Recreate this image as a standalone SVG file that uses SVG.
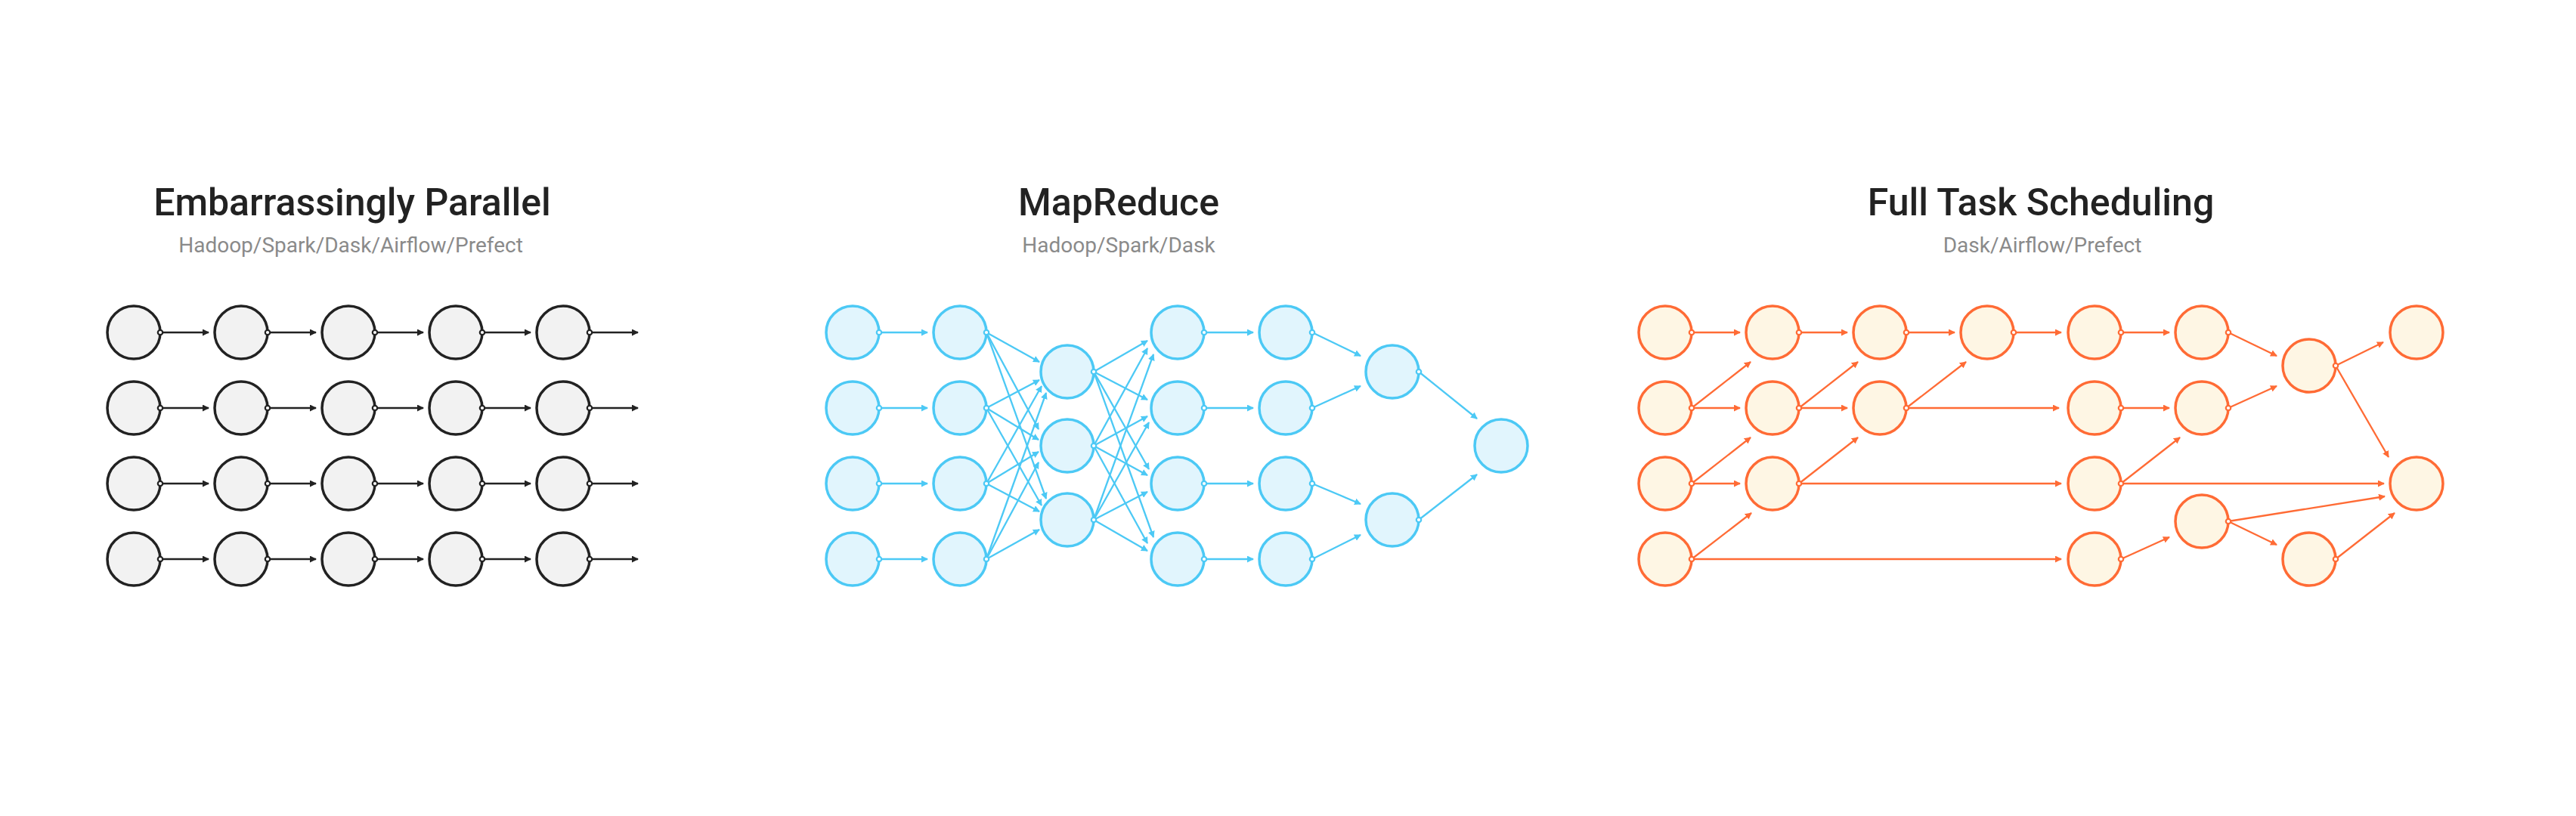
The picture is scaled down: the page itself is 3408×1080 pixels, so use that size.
<svg xmlns="http://www.w3.org/2000/svg" width="3408" height="1080" viewBox="0 0 3408 1080">
<style>
.t{font-family:Roboto,"Liberation Sans",sans-serif;font-size:50px;font-weight:500;fill:#222;text-anchor:middle}
.s{font-family:Roboto,"Liberation Sans",sans-serif;font-size:28px;font-weight:400;fill:#8a8a8a;text-anchor:middle}
.nk{fill:#f2f2f2;stroke:#222;stroke-width:3.5}
.nb{fill:#e1f5fd;stroke:#4cc9f5;stroke-width:3.5}
.no{fill:#fef6e4;stroke:#ff6b35;stroke-width:3.5}
.pk{fill:#fff;stroke:#222;stroke-width:2.2}
.pb{fill:#fff;stroke:#4cc9f5;stroke-width:2.2}
.po{fill:#fff;stroke:#ff6b35;stroke-width:2.2}
.ek{stroke:#222;stroke-width:2.3;fill:none;marker-end:url(#ak)}
.eb{stroke:#4cc9f5;stroke-width:2.3;fill:none;marker-end:url(#ab)}
.eo{stroke:#ff6b35;stroke-width:2.3;fill:none;marker-end:url(#ao)}
</style>
<defs>
<marker id="ak" viewBox="0 0 9 9" refX="8" refY="4.5" markerWidth="9" markerHeight="9" markerUnits="userSpaceOnUse" orient="auto"><path d="M0,0 L9,4.5 L0,9 z" fill="#222"/></marker>
<marker id="ab" viewBox="0 0 9 9" refX="8" refY="4.5" markerWidth="9" markerHeight="9" markerUnits="userSpaceOnUse" orient="auto"><path d="M0,0 L9,4.5 L0,9 z" fill="#4cc9f5"/></marker>
<marker id="ao" viewBox="0 0 9 9" refX="8" refY="4.5" markerWidth="9" markerHeight="9" markerUnits="userSpaceOnUse" orient="auto"><path d="M0,0 L9,4.5 L0,9 z" fill="#ff6b35"/></marker>
</defs>
<rect width="3408" height="1080" fill="#fff"/>
<g id="titles">
<text class="t" x="466" y="285">Embarrassingly Parallel</text>
<text class="s" x="464" y="334">Hadoop/Spark/Dask/Airflow/Prefect</text>
<text class="t" x="1480" y="285">MapReduce</text>
<text class="s" x="1480" y="334">Hadoop/Spark/Dask</text>
<text class="t" x="2700" y="285">Full Task Scheduling</text>
<text class="s" x="2702" y="334">Dask/Airflow/Prefect</text>
</g>
<g id="connectors">
<g id="edges-parallel">
<line class="ek" x1="212" y1="440" x2="276" y2="440"/><line class="ek" x1="354" y1="440" x2="418" y2="440"/><line class="ek" x1="496" y1="440" x2="560" y2="440"/><line class="ek" x1="638" y1="440" x2="702" y2="440"/><line class="ek" x1="780" y1="440" x2="844" y2="440"/>
<line class="ek" x1="212" y1="540" x2="276" y2="540"/><line class="ek" x1="354" y1="540" x2="418" y2="540"/><line class="ek" x1="496" y1="540" x2="560" y2="540"/><line class="ek" x1="638" y1="540" x2="702" y2="540"/><line class="ek" x1="780" y1="540" x2="844" y2="540"/>
<line class="ek" x1="212" y1="640" x2="276" y2="640"/><line class="ek" x1="354" y1="640" x2="418" y2="640"/><line class="ek" x1="496" y1="640" x2="560" y2="640"/><line class="ek" x1="638" y1="640" x2="702" y2="640"/><line class="ek" x1="780" y1="640" x2="844" y2="640"/>
<line class="ek" x1="212" y1="740" x2="276" y2="740"/><line class="ek" x1="354" y1="740" x2="418" y2="740"/><line class="ek" x1="496" y1="740" x2="560" y2="740"/><line class="ek" x1="638" y1="740" x2="702" y2="740"/><line class="ek" x1="780" y1="740" x2="844" y2="740"/>
</g>
<g id="edges-mapreduce">
<line class="eb" x1="1163" y1="440" x2="1227" y2="440"/><line class="eb" x1="1163" y1="540" x2="1227" y2="540"/><line class="eb" x1="1163" y1="640" x2="1227" y2="640"/><line class="eb" x1="1163" y1="740" x2="1227" y2="740"/>
<line class="eb" x1="1305" y1="440" x2="1375" y2="479"/><line class="eb" x1="1305" y1="540" x2="1375" y2="503"/><line class="eb" x1="1305" y1="640" x2="1378" y2="511"/><line class="eb" x1="1305" y1="740" x2="1384" y2="520"/>
<line class="eb" x1="1305" y1="440" x2="1374" y2="568"/><line class="eb" x1="1305" y1="540" x2="1374" y2="582"/><line class="eb" x1="1305" y1="640" x2="1374" y2="598"/><line class="eb" x1="1305" y1="740" x2="1374" y2="612"/>
<line class="eb" x1="1305" y1="440" x2="1384" y2="660"/><line class="eb" x1="1305" y1="540" x2="1378" y2="669"/><line class="eb" x1="1305" y1="640" x2="1375" y2="677"/><line class="eb" x1="1305" y1="740" x2="1375" y2="701"/>
<line class="eb" x1="1447" y1="492" x2="1518" y2="451"/><line class="eb" x1="1447" y1="590" x2="1518" y2="461"/><line class="eb" x1="1447" y1="688" x2="1526" y2="469"/>
<line class="eb" x1="1447" y1="492" x2="1518" y2="529"/><line class="eb" x1="1447" y1="590" x2="1518" y2="551"/><line class="eb" x1="1447" y1="688" x2="1520" y2="559"/>
<line class="eb" x1="1447" y1="492" x2="1520" y2="621"/><line class="eb" x1="1447" y1="590" x2="1518" y2="629"/><line class="eb" x1="1447" y1="688" x2="1518" y2="651"/>
<line class="eb" x1="1447" y1="492" x2="1526" y2="711"/><line class="eb" x1="1447" y1="590" x2="1518" y2="719"/><line class="eb" x1="1447" y1="688" x2="1518" y2="729"/>
<line class="eb" x1="1593" y1="440" x2="1658" y2="440"/><line class="eb" x1="1593" y1="540" x2="1658" y2="540"/><line class="eb" x1="1593" y1="640" x2="1658" y2="640"/><line class="eb" x1="1593" y1="740" x2="1658" y2="740"/>
<line class="eb" x1="1736" y1="440" x2="1800" y2="471"/><line class="eb" x1="1736" y1="540" x2="1800" y2="511"/><line class="eb" x1="1736" y1="640" x2="1800" y2="667"/><line class="eb" x1="1736" y1="740" x2="1800" y2="708"/>
<line class="eb" x1="1877" y1="492" x2="1954" y2="554"/><line class="eb" x1="1877" y1="688" x2="1954" y2="628"/>
</g>
<g id="edges-scheduling">
<line class="eo" x1="2238" y1="440" x2="2302" y2="440"/>
<line class="eo" x1="2238" y1="540" x2="2302" y2="540"/>
<line class="eo" x1="2238" y1="540" x2="2316" y2="479"/>
<line class="eo" x1="2238" y1="640" x2="2302" y2="640"/>
<line class="eo" x1="2238" y1="640" x2="2316" y2="579"/>
<line class="eo" x1="2238" y1="740" x2="2317" y2="679"/>
<line class="eo" x1="2238" y1="740" x2="2727" y2="740"/>
<line class="eo" x1="2380" y1="440" x2="2444" y2="440"/>
<line class="eo" x1="2380" y1="540" x2="2444" y2="540"/>
<line class="eo" x1="2380" y1="540" x2="2458" y2="479"/>
<line class="eo" x1="2380" y1="640" x2="2458" y2="579"/>
<line class="eo" x1="2380" y1="640" x2="2727" y2="640"/>
<line class="eo" x1="2522" y1="440" x2="2586" y2="440"/>
<line class="eo" x1="2522" y1="540" x2="2601" y2="479"/>
<line class="eo" x1="2522" y1="540" x2="2724" y2="540"/>
<line class="eo" x1="2664" y1="440" x2="2727" y2="440"/>
<line class="eo" x1="2806" y1="440" x2="2870" y2="440"/>
<line class="eo" x1="2806" y1="540" x2="2870" y2="540"/>
<line class="eo" x1="2806" y1="640" x2="2884" y2="579"/>
<line class="eo" x1="2806" y1="640" x2="3154" y2="640"/>
<line class="eo" x1="2806" y1="740" x2="2870" y2="711"/>
<line class="eo" x1="2948" y1="440" x2="3012" y2="471"/>
<line class="eo" x1="2948" y1="540" x2="3012" y2="511"/>
<line class="eo" x1="3090" y1="484" x2="3153" y2="453"/>
<line class="eo" x1="3090" y1="484" x2="3160" y2="605"/>
<line class="eo" x1="2948" y1="690" x2="3155" y2="657"/>
<line class="eo" x1="2948" y1="690" x2="3012" y2="721"/>
<line class="eo" x1="3090" y1="740" x2="3168" y2="679"/>
</g>
</g>
<g id="nodes-parallel">
<g id="k-1-1"><circle class="nk" cx="177" cy="440" r="35"/><circle class="pk" cx="212" cy="440" r="3.2"/></g>
<g id="k-1-2"><circle class="nk" cx="319" cy="440" r="35"/><circle class="pk" cx="354" cy="440" r="3.2"/></g>
<g id="k-1-3"><circle class="nk" cx="461" cy="440" r="35"/><circle class="pk" cx="496" cy="440" r="3.2"/></g>
<g id="k-1-4"><circle class="nk" cx="603" cy="440" r="35"/><circle class="pk" cx="638" cy="440" r="3.2"/></g>
<g id="k-1-5"><circle class="nk" cx="745" cy="440" r="35"/><circle class="pk" cx="780" cy="440" r="3.2"/></g>
<g id="k-2-1"><circle class="nk" cx="177" cy="540" r="35"/><circle class="pk" cx="212" cy="540" r="3.2"/></g>
<g id="k-2-2"><circle class="nk" cx="319" cy="540" r="35"/><circle class="pk" cx="354" cy="540" r="3.2"/></g>
<g id="k-2-3"><circle class="nk" cx="461" cy="540" r="35"/><circle class="pk" cx="496" cy="540" r="3.2"/></g>
<g id="k-2-4"><circle class="nk" cx="603" cy="540" r="35"/><circle class="pk" cx="638" cy="540" r="3.2"/></g>
<g id="k-2-5"><circle class="nk" cx="745" cy="540" r="35"/><circle class="pk" cx="780" cy="540" r="3.2"/></g>
<g id="k-3-1"><circle class="nk" cx="177" cy="640" r="35"/><circle class="pk" cx="212" cy="640" r="3.2"/></g>
<g id="k-3-2"><circle class="nk" cx="319" cy="640" r="35"/><circle class="pk" cx="354" cy="640" r="3.2"/></g>
<g id="k-3-3"><circle class="nk" cx="461" cy="640" r="35"/><circle class="pk" cx="496" cy="640" r="3.2"/></g>
<g id="k-3-4"><circle class="nk" cx="603" cy="640" r="35"/><circle class="pk" cx="638" cy="640" r="3.2"/></g>
<g id="k-3-5"><circle class="nk" cx="745" cy="640" r="35"/><circle class="pk" cx="780" cy="640" r="3.2"/></g>
<g id="k-4-1"><circle class="nk" cx="177" cy="740" r="35"/><circle class="pk" cx="212" cy="740" r="3.2"/></g>
<g id="k-4-2"><circle class="nk" cx="319" cy="740" r="35"/><circle class="pk" cx="354" cy="740" r="3.2"/></g>
<g id="k-4-3"><circle class="nk" cx="461" cy="740" r="35"/><circle class="pk" cx="496" cy="740" r="3.2"/></g>
<g id="k-4-4"><circle class="nk" cx="603" cy="740" r="35"/><circle class="pk" cx="638" cy="740" r="3.2"/></g>
<g id="k-4-5"><circle class="nk" cx="745" cy="740" r="35"/><circle class="pk" cx="780" cy="740" r="3.2"/></g>
</g>
<g id="nodes-mapreduce">
<g id="b-1-1"><circle class="nb" cx="1128" cy="440" r="35"/><circle class="pb" cx="1163" cy="440" r="3.2"/></g>
<g id="b-1-2"><circle class="nb" cx="1128" cy="540" r="35"/><circle class="pb" cx="1163" cy="540" r="3.2"/></g>
<g id="b-1-3"><circle class="nb" cx="1128" cy="640" r="35"/><circle class="pb" cx="1163" cy="640" r="3.2"/></g>
<g id="b-1-4"><circle class="nb" cx="1128" cy="740" r="35"/><circle class="pb" cx="1163" cy="740" r="3.2"/></g>
<g id="b-2-1"><circle class="nb" cx="1270" cy="440" r="35"/><circle class="pb" cx="1305" cy="440" r="3.2"/></g>
<g id="b-2-2"><circle class="nb" cx="1270" cy="540" r="35"/><circle class="pb" cx="1305" cy="540" r="3.2"/></g>
<g id="b-2-3"><circle class="nb" cx="1270" cy="640" r="35"/><circle class="pb" cx="1305" cy="640" r="3.2"/></g>
<g id="b-2-4"><circle class="nb" cx="1270" cy="740" r="35"/><circle class="pb" cx="1305" cy="740" r="3.2"/></g>
<g id="b-3-1"><circle class="nb" cx="1412" cy="492" r="35"/><circle class="pb" cx="1447" cy="492" r="3.2"/></g>
<g id="b-3-2"><circle class="nb" cx="1412" cy="590" r="35"/><circle class="pb" cx="1447" cy="590" r="3.2"/></g>
<g id="b-3-3"><circle class="nb" cx="1412" cy="688" r="35"/><circle class="pb" cx="1447" cy="688" r="3.2"/></g>
<g id="b-4-1"><circle class="nb" cx="1558" cy="440" r="35"/><circle class="pb" cx="1593" cy="440" r="3.2"/></g>
<g id="b-4-2"><circle class="nb" cx="1558" cy="540" r="35"/><circle class="pb" cx="1593" cy="540" r="3.2"/></g>
<g id="b-4-3"><circle class="nb" cx="1558" cy="640" r="35"/><circle class="pb" cx="1593" cy="640" r="3.2"/></g>
<g id="b-4-4"><circle class="nb" cx="1558" cy="740" r="35"/><circle class="pb" cx="1593" cy="740" r="3.2"/></g>
<g id="b-5-1"><circle class="nb" cx="1701" cy="440" r="35"/><circle class="pb" cx="1736" cy="440" r="3.2"/></g>
<g id="b-5-2"><circle class="nb" cx="1701" cy="540" r="35"/><circle class="pb" cx="1736" cy="540" r="3.2"/></g>
<g id="b-5-3"><circle class="nb" cx="1701" cy="640" r="35"/><circle class="pb" cx="1736" cy="640" r="3.2"/></g>
<g id="b-5-4"><circle class="nb" cx="1701" cy="740" r="35"/><circle class="pb" cx="1736" cy="740" r="3.2"/></g>
<g id="b-6-1"><circle class="nb" cx="1842" cy="492" r="35"/><circle class="pb" cx="1877" cy="492" r="3.2"/></g>
<g id="b-6-2"><circle class="nb" cx="1842" cy="688" r="35"/><circle class="pb" cx="1877" cy="688" r="3.2"/></g>
<g id="b-7-1"><circle class="nb" cx="1986" cy="590" r="35"/></g>
</g>
<g id="nodes-scheduling">
<g id="o-1-1"><circle class="no" cx="2203" cy="440" r="35"/><circle class="po" cx="2238" cy="440" r="3.2"/></g>
<g id="o-1-2"><circle class="no" cx="2203" cy="540" r="35"/><circle class="po" cx="2238" cy="540" r="3.2"/></g>
<g id="o-1-3"><circle class="no" cx="2203" cy="640" r="35"/><circle class="po" cx="2238" cy="640" r="3.2"/></g>
<g id="o-1-4"><circle class="no" cx="2203" cy="740" r="35"/><circle class="po" cx="2238" cy="740" r="3.2"/></g>
<g id="o-2-1"><circle class="no" cx="2345" cy="440" r="35"/><circle class="po" cx="2380" cy="440" r="3.2"/></g>
<g id="o-2-2"><circle class="no" cx="2345" cy="540" r="35"/><circle class="po" cx="2380" cy="540" r="3.2"/></g>
<g id="o-2-3"><circle class="no" cx="2345" cy="640" r="35"/><circle class="po" cx="2380" cy="640" r="3.2"/></g>
<g id="o-3-1"><circle class="no" cx="2487" cy="440" r="35"/><circle class="po" cx="2522" cy="440" r="3.2"/></g>
<g id="o-3-2"><circle class="no" cx="2487" cy="540" r="35"/><circle class="po" cx="2522" cy="540" r="3.2"/></g>
<g id="o-4-1"><circle class="no" cx="2629" cy="440" r="35"/><circle class="po" cx="2664" cy="440" r="3.2"/></g>
<g id="o-5-1"><circle class="no" cx="2771" cy="440" r="35"/><circle class="po" cx="2806" cy="440" r="3.2"/></g>
<g id="o-5-2"><circle class="no" cx="2771" cy="540" r="35"/><circle class="po" cx="2806" cy="540" r="3.2"/></g>
<g id="o-5-3"><circle class="no" cx="2771" cy="640" r="35"/><circle class="po" cx="2806" cy="640" r="3.2"/></g>
<g id="o-5-4"><circle class="no" cx="2771" cy="740" r="35"/><circle class="po" cx="2806" cy="740" r="3.2"/></g>
<g id="o-6-1"><circle class="no" cx="2913" cy="440" r="35"/><circle class="po" cx="2948" cy="440" r="3.2"/></g>
<g id="o-6-2"><circle class="no" cx="2913" cy="540" r="35"/><circle class="po" cx="2948" cy="540" r="3.2"/></g>
<g id="o-6-3"><circle class="no" cx="2913" cy="690" r="35"/><circle class="po" cx="2948" cy="690" r="3.2"/></g>
<g id="o-7-1"><circle class="no" cx="3055" cy="484" r="35"/><circle class="po" cx="3090" cy="484" r="3.2"/></g>
<g id="o-7-2"><circle class="no" cx="3055" cy="740" r="35"/><circle class="po" cx="3090" cy="740" r="3.2"/></g>
<g id="o-8-1"><circle class="no" cx="3197" cy="440" r="35"/></g>
<g id="o-8-2"><circle class="no" cx="3197" cy="640" r="35"/></g>
</g>
</svg>
